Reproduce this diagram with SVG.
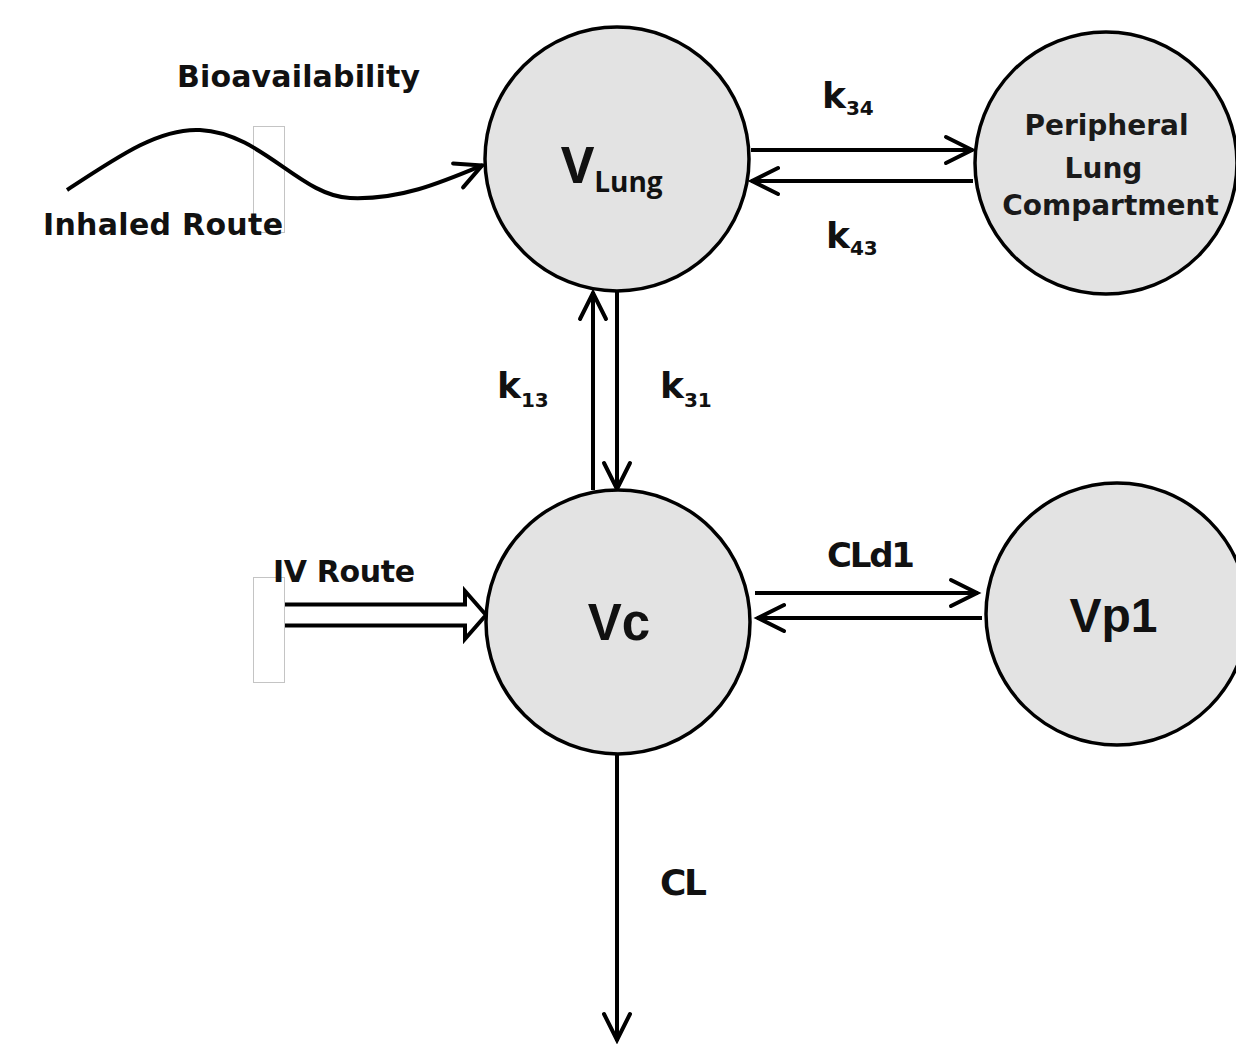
<svg xmlns="http://www.w3.org/2000/svg" width="1236" height="1044" viewBox="0 0 1236 1044">
<style>
.node{fill:#e3e3e3;stroke:#000;stroke-width:3.5}
.edge{fill:none;stroke:#000;stroke-width:4}
.lbl{font-family:"DejaVu Sans","Liberation Sans",sans-serif;font-weight:bold;fill:#111}
.nlbl{font-family:"Liberation Sans",Arial,sans-serif;font-weight:bold;fill:#111;text-anchor:middle}
.ptxt{font-family:"DejaVu Sans","Liberation Sans",sans-serif;font-weight:bold;font-size:28px;fill:#1a1a1a;text-anchor:middle}
.ph{fill:none;stroke:#c4c4c4;stroke-width:1}
</style>
<defs>
<marker id="ah" markerUnits="userSpaceOnUse" viewBox="-34 -18 38 36" markerWidth="38" markerHeight="36" refX="0" refY="0" orient="auto">
<path d="M-27,-13 L-1,0 L-27,13" fill="none" stroke="#000" stroke-width="4" stroke-linecap="round" stroke-linejoin="miter"/>
</marker>
</defs>
<rect id="background" x="0" y="0" width="1236" height="1044" fill="#fff"/>
<g id="placeholders">
<rect class="ph" x="253.5" y="126.5" width="31" height="106"/>
<rect class="ph" x="253.5" y="577.5" width="31" height="105"/>
</g>
<g id="connectors">
<path id="inhaled" class="edge" d="M67,190 C120,155 160,128 200,130 C262,133 300,196 350,198 C400,200 440,183 483,165" marker-end="url(#ah)"/>
<path id="iv" class="edge" stroke-width="4.5" d="M285,604.5 H465 V591 L486,615 L465,639 V625.5 H285"/>
<line id="k34" class="edge" x1="751" y1="150" x2="973" y2="150" marker-end="url(#ah)"/>
<line id="k43" class="edge" x1="973" y1="181" x2="751" y2="181" marker-end="url(#ah)"/>
<line id="k13" class="edge" x1="593" y1="490" x2="593" y2="292" marker-end="url(#ah)"/>
<line id="k31" class="edge" x1="617" y1="292" x2="617" y2="490" marker-end="url(#ah)"/>
<line id="cld1-out" class="edge" x1="755" y1="593" x2="978" y2="593" marker-end="url(#ah)"/>
<line id="cld1-in" class="edge" x1="982" y1="618" x2="757" y2="618" marker-end="url(#ah)"/>
<line id="cl" class="edge" x1="617" y1="754" x2="617" y2="1041" marker-end="url(#ah)"/>
<text class="lbl" x="298.5" y="87" font-size="30" text-anchor="middle" textLength="243">Bioavailability</text>
<text class="lbl" x="163" y="235" font-size="30" text-anchor="middle" textLength="240">Inhaled Route</text>
<text class="lbl" x="344" y="582" font-size="30" text-anchor="middle" textLength="142">IV Route</text>
<text class="lbl" x="822" y="108" font-size="36">k<tspan font-size="20" dy="7">34</tspan></text>
<text class="lbl" x="826" y="248" font-size="36">k<tspan font-size="20" dy="7">43</tspan></text>
<text class="lbl" x="497" y="398" font-size="36">k<tspan font-size="20" dy="9">13</tspan></text>
<text class="lbl" x="660" y="398" font-size="36">k<tspan font-size="20" dy="9">31</tspan></text>
<text class="lbl" x="871" y="567" font-size="34" text-anchor="middle" textLength="88">CLd1</text>
<text class="lbl" x="660" y="895" font-size="36" textLength="47">CL</text>
</g>
<g id="node-vlung">
<circle class="node" cx="617" cy="159" r="132"/>
<text x="561" y="183" font-family="'Open Sans','DejaVu Sans',sans-serif" font-weight="bold" font-size="51" fill="#111">V<tspan font-size="28" dy="9">Lung</tspan></text>
</g>
<g id="node-peripheral">
<circle class="node" cx="1106" cy="163" r="131"/>
<text class="ptxt" x="1106.5" y="135">Peripheral</text>
<text class="ptxt" x="1103.5" y="178">Lung</text>
<text class="ptxt" x="1110.5" y="215">Compartment</text>
</g>
<g id="node-vc">
<circle class="node" cx="618" cy="622" r="132"/>
<text class="nlbl" x="619" y="640" font-size="51">Vc</text>
</g>
<g id="node-vp1">
<circle class="node" cx="1117" cy="614" r="131"/>
<text class="nlbl" x="1113.5" y="632" font-size="48">Vp1</text>
</g>
</svg>
